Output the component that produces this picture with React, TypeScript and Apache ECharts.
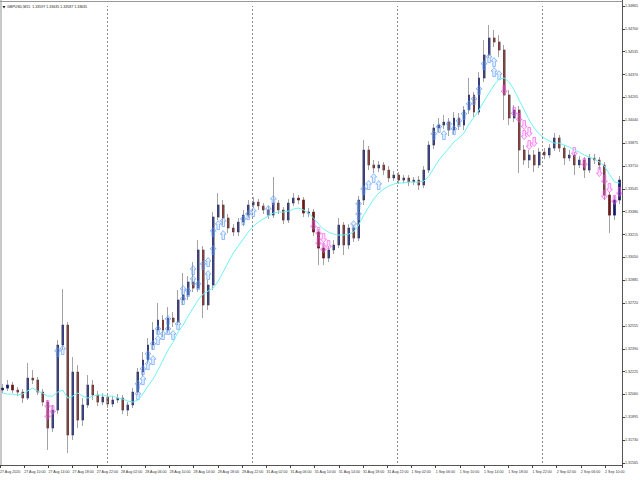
import React, { useEffect, useRef } from "react";
import * as echarts from "echarts";

const chartTitle = "GBPUSD,M15  1.33597 1.33635 1.33587 1.33635";

// [open, close, low, high]
const candles: number[][] = [
  [1.32092, 1.32106, 1.32070, 1.32135],
  [1.32106, 1.32128, 1.32085, 1.32164],
  [1.32128, 1.32092, 1.32070, 1.32150],
  [1.32092, 1.32077, 1.32048, 1.32113],
  [1.32077, 1.32034, 1.31998, 1.32099],
  [1.32034, 1.32178, 1.32020, 1.32287],
  [1.32178, 1.32164, 1.32135, 1.32236],
  [1.32164, 1.32077, 1.32056, 1.32186],
  [1.32077, 1.32005, 1.31976, 1.32099],
  [1.32005, 1.31817, 1.31659, 1.32020],
  [1.31817, 1.31947, 1.31789, 1.31984],
  [1.31947, 1.32417, 1.31919, 1.32453],
  [1.32417, 1.32561, 1.32381, 1.32821],
  [1.32561, 1.31767, 1.31637, 1.32583],
  [1.31767, 1.32222, 1.31731, 1.32330],
  [1.32222, 1.31875, 1.31817, 1.32272],
  [1.31875, 1.31984, 1.31832, 1.32034],
  [1.31984, 1.32128, 1.31962, 1.32200],
  [1.32128, 1.32056, 1.32020, 1.32164],
  [1.32056, 1.32005, 1.31976, 1.32085],
  [1.32005, 1.32041, 1.31984, 1.32070],
  [1.32041, 1.31991, 1.31962, 1.32063],
  [1.31991, 1.32020, 1.31969, 1.32048],
  [1.32020, 1.32034, 1.31998, 1.32063],
  [1.32034, 1.31947, 1.31919, 1.32056],
  [1.31947, 1.31984, 1.31904, 1.32005],
  [1.31984, 1.32077, 1.31962, 1.32106],
  [1.32077, 1.32222, 1.32056, 1.32251],
  [1.32222, 1.32308, 1.32193, 1.32366],
  [1.32308, 1.32417, 1.32280, 1.32467],
  [1.32417, 1.32525, 1.32381, 1.32583],
  [1.32525, 1.32597, 1.32496, 1.32720],
  [1.32597, 1.32525, 1.32475, 1.32633],
  [1.32525, 1.32612, 1.32503, 1.32691],
  [1.32612, 1.32583, 1.32547, 1.32655],
  [1.32583, 1.32742, 1.32561, 1.32814],
  [1.32742, 1.32778, 1.32706, 1.32937],
  [1.32778, 1.32872, 1.32742, 1.32915],
  [1.32872, 1.32828, 1.32800, 1.33016],
  [1.32828, 1.33103, 1.32800, 1.33175],
  [1.33103, 1.32706, 1.32612, 1.33132],
  [1.32706, 1.32850, 1.32670, 1.32886],
  [1.32850, 1.33341, 1.32814, 1.33377],
  [1.33341, 1.33428, 1.33319, 1.33514],
  [1.33428, 1.33334, 1.33283, 1.33464],
  [1.33334, 1.33262, 1.33225, 1.33363],
  [1.33262, 1.33233, 1.33204, 1.33290],
  [1.33233, 1.33305, 1.33204, 1.33334],
  [1.33305, 1.33355, 1.33276, 1.33392],
  [1.33355, 1.33428, 1.33334, 1.33464],
  [1.33428, 1.33449, 1.33406, 1.33485],
  [1.33449, 1.33421, 1.33392, 1.33471],
  [1.33421, 1.33392, 1.33363, 1.33442],
  [1.33392, 1.33355, 1.33327, 1.33421],
  [1.33355, 1.33442, 1.33334, 1.33630],
  [1.33442, 1.33392, 1.33363, 1.33464],
  [1.33392, 1.33319, 1.33290, 1.33413],
  [1.33319, 1.33442, 1.33298, 1.33471],
  [1.33442, 1.33478, 1.33421, 1.33514],
  [1.33478, 1.33464, 1.33435, 1.33500],
  [1.33464, 1.33370, 1.33341, 1.33485],
  [1.33370, 1.33377, 1.33341, 1.33406],
  [1.33377, 1.33233, 1.33204, 1.33399],
  [1.33233, 1.33117, 1.32994, 1.33254],
  [1.33117, 1.33045, 1.32994, 1.33146],
  [1.33045, 1.33103, 1.33016, 1.33132],
  [1.33103, 1.33139, 1.33074, 1.33175],
  [1.33139, 1.33283, 1.33117, 1.33334],
  [1.33283, 1.33139, 1.33067, 1.33305],
  [1.33139, 1.33262, 1.33110, 1.33290],
  [1.33262, 1.33189, 1.33161, 1.33283],
  [1.33189, 1.33464, 1.33168, 1.33493],
  [1.33464, 1.33825, 1.33428, 1.33897],
  [1.33825, 1.33717, 1.33680, 1.33854],
  [1.33717, 1.33695, 1.33659, 1.33753],
  [1.33695, 1.33717, 1.33666, 1.33745],
  [1.33717, 1.33680, 1.33644, 1.33738],
  [1.33680, 1.33623, 1.33594, 1.33709],
  [1.33623, 1.33644, 1.33601, 1.33673],
  [1.33644, 1.33608, 1.33579, 1.33666],
  [1.33608, 1.33623, 1.33587, 1.33644],
  [1.33623, 1.33594, 1.33565, 1.33644],
  [1.33594, 1.33608, 1.33572, 1.33630],
  [1.33608, 1.33572, 1.33536, 1.33637],
  [1.33572, 1.33680, 1.33550, 1.33709],
  [1.33680, 1.33861, 1.33659, 1.33890],
  [1.33861, 1.33984, 1.33832, 1.34013],
  [1.33984, 1.34005, 1.33955, 1.34056],
  [1.34005, 1.34027, 1.33977, 1.34078],
  [1.34027, 1.33969, 1.33926, 1.34056],
  [1.33969, 1.34056, 1.33940, 1.34099],
  [1.34056, 1.34005, 1.33969, 1.34092],
  [1.34005, 1.34114, 1.33969, 1.34143],
  [1.34114, 1.34222, 1.34085, 1.34345],
  [1.34222, 1.34099, 1.34063, 1.34244],
  [1.34099, 1.34345, 1.34078, 1.34388],
  [1.34345, 1.34511, 1.34316, 1.34619],
  [1.34511, 1.34634, 1.34489, 1.34728],
  [1.34634, 1.34605, 1.34569, 1.34691],
  [1.34605, 1.34547, 1.34496, 1.34655],
  [1.34547, 1.34222, 1.34041, 1.34583],
  [1.34222, 1.34056, 1.34005, 1.34258],
  [1.34056, 1.34114, 1.34027, 1.34150],
  [1.34114, 1.33825, 1.33659, 1.34143],
  [1.33825, 1.33753, 1.33717, 1.33861],
  [1.33753, 1.33789, 1.33695, 1.33825],
  [1.33789, 1.33717, 1.33666, 1.33825],
  [1.33717, 1.33810, 1.33695, 1.33839],
  [1.33810, 1.33789, 1.33759, 1.33839],
  [1.33789, 1.33839, 1.33767, 1.33868],
  [1.33839, 1.33912, 1.33818, 1.33948],
  [1.33912, 1.33839, 1.33810, 1.33933],
  [1.33839, 1.33767, 1.33717, 1.33861],
  [1.33767, 1.33789, 1.33745, 1.33825],
  [1.33789, 1.33717, 1.33644, 1.33810],
  [1.33717, 1.33753, 1.33695, 1.33781],
  [1.33753, 1.33680, 1.33623, 1.33774],
  [1.33680, 1.33767, 1.33659, 1.33796],
  [1.33767, 1.33753, 1.33724, 1.33796],
  [1.33753, 1.33717, 1.33680, 1.33774],
  [1.33717, 1.33500, 1.33464, 1.33738],
  [1.33500, 1.33355, 1.33225, 1.33522],
  [1.33355, 1.33464, 1.33319, 1.33493],
  [1.33464, 1.33608, 1.33435, 1.33637],
];

const movingAverage: number[] = [
  1.32070, 1.32063, 1.32063, 1.32056, 1.32063, 1.32085, 1.32106, 1.32085, 1.32070, 1.32048,
  1.32048, 1.32077, 1.32092, 1.32034, 1.32048, 1.32070, 1.32048, 1.32034, 1.32048, 1.32056,
  1.32056, 1.32048, 1.32048, 1.32034, 1.32027, 1.32012, 1.32005, 1.32020, 1.32063, 1.32121,
  1.32171, 1.32236, 1.32308, 1.32381, 1.32438, 1.32511, 1.32561, 1.32626, 1.32684, 1.32742,
  1.32785, 1.32807, 1.32828, 1.32879, 1.32944, 1.33016, 1.33081, 1.33132, 1.33182, 1.33233,
  1.33276, 1.33305, 1.33327, 1.33348, 1.33370, 1.33377, 1.33377, 1.33384, 1.33399, 1.33406,
  1.33392, 1.33370, 1.33334, 1.33290, 1.33254, 1.33233, 1.33218, 1.33211, 1.33211, 1.33218,
  1.33233, 1.33283, 1.33355, 1.33413, 1.33471, 1.33514, 1.33543, 1.33565, 1.33579, 1.33587,
  1.33587, 1.33594, 1.33594, 1.33594, 1.33601, 1.33637, 1.33695, 1.33753, 1.33796, 1.33839,
  1.33883, 1.33912, 1.33948, 1.34013, 1.34063, 1.34114, 1.34179, 1.34236, 1.34294, 1.34337,
  1.34345, 1.34316, 1.34258, 1.34186, 1.34114, 1.34041, 1.33984, 1.33940, 1.33912, 1.33890,
  1.33875, 1.33875, 1.33861, 1.33846, 1.33825, 1.33810, 1.33789, 1.33774, 1.33759, 1.33738,
  1.33709, 1.33651, 1.33594, 1.33587,
];

// [bar index, price]
const buyArrows: number[][] = [
  [11, 1.32366], [12, 1.32381],
  [27, 1.32056], [27, 1.32128], [28, 1.32164], [28, 1.32236], [29, 1.32272], [29, 1.32345],
  [30, 1.32308], [30, 1.32417], [31, 1.32453], [31, 1.32525], [32, 1.32489], [33, 1.32525],
  [33, 1.32597], [34, 1.32489], [35, 1.32561], [36, 1.32742], [36, 1.32814], [37, 1.32800],
  [38, 1.32886], [38, 1.32958], [39, 1.32850], [40, 1.32994], [41, 1.32922], [41, 1.33016],
  [42, 1.33103], [42, 1.33233], [43, 1.33283], [44, 1.33211], [44, 1.33305], [48, 1.33319],
  [49, 1.33355], [50, 1.33377], [53, 1.33392], [54, 1.33464],
  [70, 1.33283], [71, 1.33355], [71, 1.33428], [72, 1.33536], [73, 1.33572], [74, 1.33623],
  [75, 1.33572],
  [86, 1.33933], [87, 1.33984], [88, 1.33933], [89, 1.34005], [90, 1.33969], [91, 1.34027],
  [92, 1.34078], [93, 1.34150], [94, 1.34186], [95, 1.34258], [96, 1.34439], [97, 1.34489],
  [98, 1.34460], [98, 1.34388], [99, 1.34366],
];

const sellArrows: number[][] = [
  [9, 1.31984], [9, 1.31911], [10, 1.31947],
  [62, 1.33283], [63, 1.33233], [63, 1.33161], [64, 1.33189], [64, 1.33117], [65, 1.33139],
  [100, 1.34258], [102, 1.34099], [103, 1.34056], [104, 1.34005], [104, 1.33933],
  [105, 1.33955], [105, 1.33861], [106, 1.33883],
  [114, 1.33810], [116, 1.33731], [119, 1.33666], [120, 1.33608], [120, 1.33500],
  [121, 1.33550], [122, 1.33464], [123, 1.33522],
];

// price scale labels, bottom to top
const priceTicks = [
  "1.31565", "1.31730", "1.31895", "1.32060", "1.32225", "1.32390", "1.32555",
  "1.32720", "1.32885", "1.33050", "1.33215", "1.33380", "1.33545", "1.33710",
  "1.33875", "1.34040", "1.34205", "1.34370", "1.34535", "1.34700", "1.34865",
];
const priceMin = 1.31565;
const priceMax = 1.34865;

// time scale labels, every 4 trading hours
const timeTicks = [
  "27 Aug 2020", "27 Aug 10:00", "27 Aug 14:00", "27 Aug 18:00", "27 Aug 22:00",
  "28 Aug 02:00", "28 Aug 06:00", "28 Aug 10:00", "28 Aug 14:00", "28 Aug 18:00",
  "28 Aug 22:00", "31 Aug 02:00", "31 Aug 06:00", "31 Aug 10:00", "31 Aug 14:00",
  "31 Aug 18:00", "31 Aug 22:00", "1 Sep 02:00", "1 Sep 06:00", "1 Sep 10:00",
  "1 Sep 14:00", "1 Sep 18:00", "1 Sep 22:00", "2 Sep 02:00", "2 Sep 06:00",
  "2 Sep 10:00",
];
const hoursShown = 102.8;
// day separators (trading hours from the first bar)
const daySeparators = [17.7, 41.7, 65.6, 89.7];

const FONT = "Liberation Sans";
const UP_ARROW = "path://M3,0 L6,4 L4.3,4 L4.3,10 L1.7,10 L1.7,4 L0,4 Z";
const DOWN_ARROW = "path://M3,10 L6,6 L4.3,6 L4.3,0 L1.7,0 L1.7,6 L0,6 Z";

export default function App() {
  const ref = useRef<HTMLDivElement>(null);

  useEffect(() => {
    if (!ref.current) return;
    const chart = echarts.init(ref.current, null, { renderer: "svg" });
    const categories = candles.map((_, i) => String(i));
    const bodies = candles.map(([o, c]) => [o, c, Math.min(o, c), Math.max(o, c)]);

    chart.setOption({
      animation: false,
      backgroundColor: "#ffffff",
      grid: { left: 0, right: 18, top: 6, bottom: 17, containLabel: false, outerBoundsMode: "none" },
      xAxis: [
        { type: "category", data: categories, boundaryGap: true, show: false },
        {
          type: "value",
          min: 0,
          max: hoursShown,
          interval: 4,
          position: "bottom",
          offset: 2,
          axisLine: { show: false },
          axisTick: { show: true, length: 3, lineStyle: { color: "#444", width: 1 } },
          splitLine: { show: false },
          axisLabel: {
            fontSize: 3.6,
            fontFamily: FONT,
            color: "#333",
            align: "left",
            margin: 5,
            formatter: (v: number) => {
              const k = v / 4;
              return Number.isInteger(k) && timeTicks[k] ? timeTicks[k] : "";
            },
          },
        },
      ],
      yAxis: [
        { type: "value", min: priceMin, max: priceMax, show: false, scale: true },
        {
          type: "value",
          min: 0,
          max: priceTicks.length - 1,
          interval: 1,
          position: "right",
          axisLine: { show: false },
          axisTick: { show: true, length: 3, lineStyle: { color: "#444", width: 1 } },
          splitLine: { show: false },
          axisLabel: {
            fontSize: 3.6,
            fontFamily: FONT,
            color: "#333",
            margin: 3,
            formatter: (v: number) => (Number.isInteger(v) && priceTicks[v] ? priceTicks[v] : ""),
          },
        },
      ],
      graphic: [
        { type: "rect", shape: { x: 0, y: 0, width: 2, height: 466 }, style: { fill: "#c8c8c8" }, silent: true },
        { type: "line", shape: { x1: 0, y1: 1.5, x2: 622, y2: 1.5 }, style: { stroke: "#999", lineWidth: 1 }, silent: true },
        { type: "line", shape: { x1: 622.5, y1: 0, x2: 622.5, y2: 466 }, style: { stroke: "#555", lineWidth: 1 }, silent: true },
        { type: "line", shape: { x1: 0, y1: 465.5, x2: 623, y2: 465.5 }, style: { stroke: "#555", lineWidth: 1 }, silent: true },
        { type: "polygon", shape: { points: [[2.5, 6], [5.5, 6], [4, 8.5]] }, style: { fill: "#222" }, silent: true },
        {
          type: "text",
          x: 7,
          y: 4.8,
          style: { text: chartTitle, fontSize: 3.6, fontFamily: FONT, fill: "#222" },
          silent: true,
        },
      ],
      series: [
        {
          type: "candlestick",
          name: "shadow",
          xAxisIndex: 0,
          yAxisIndex: 0,
          data: candles,
          barWidth: 2.4,
          itemStyle: { color: "#c4c4c4", color0: "#c4c4c4", borderColor: "#a3a3a3", borderColor0: "#a3a3a3", borderWidth: 1 },
        },
        {
          type: "candlestick",
          name: "body",
          xAxisIndex: 0,
          yAxisIndex: 0,
          data: bodies,
          barWidth: 1.6,
          itemStyle: { color: "#161a6c", color0: "#6c1818", borderColor: "#161a6c", borderColor0: "#6c1818", borderWidth: 0.5 },
        },
        {
          type: "scatter",
          name: "buy",
          xAxisIndex: 0,
          yAxisIndex: 0,
          data: buyArrows,
          symbol: UP_ARROW,
          symbolSize: [6, 9],
          itemStyle: { color: "rgba(160,200,255,0.3)", borderColor: "#4a90ff", borderWidth: 0.7 },
          z: 3,
        },
        {
          type: "scatter",
          name: "sell",
          xAxisIndex: 0,
          yAxisIndex: 0,
          data: sellArrows,
          symbol: DOWN_ARROW,
          symbolSize: [6, 9],
          itemStyle: { color: "rgba(255,160,255,0.3)", borderColor: "#ff3cf0", borderWidth: 0.7 },
          z: 3,
        },
        {
          type: "line",
          name: "ma",
          xAxisIndex: 0,
          yAxisIndex: 0,
          data: movingAverage,
          showSymbol: false,
          symbol: "none",
          lineStyle: { color: "#6ef2f5", width: 1 },
          z: 4,
        },
        {
          type: "scatter",
          name: "separators",
          xAxisIndex: 1,
          yAxisIndex: 1,
          data: [],
          markLine: {
            silent: true,
            symbol: ["none", "none"],
            label: { show: false },
            lineStyle: { color: "#8a8a8a", width: 1, type: [2, 2] },
            data: daySeparators.map((h) => ({ xAxis: h })),
          },
        },
      ],
    });

    return () => chart.dispose();
  }, []);

  return (
    <div
      ref={ref}
      style={{ position: "fixed", left: 0, top: 0, width: 640, height: 480, background: "#fff" }}
    />
  );
}
